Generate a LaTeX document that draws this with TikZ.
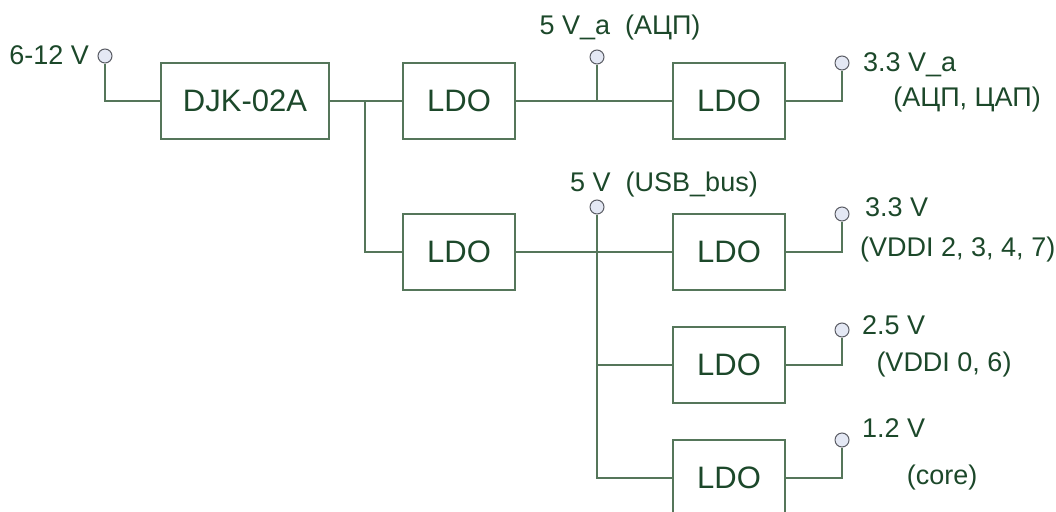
\documentclass[tikz,border=0pt]{standalone}
\usepackage{fontspec}
\setmainfont{Liberation Sans}
\definecolor{txt}{RGB}{28,72,42}
\definecolor{wire}{RGB}{85,118,90}
\definecolor{pinfill}{RGB}{228,232,244}
\definecolor{pindraw}{RGB}{90,92,100}
\begin{document}
\begin{tikzpicture}[x=1pt,y=-1pt,
  blk/.style={draw=wire,line width=1.4pt,minimum width=112pt,minimum height=76pt,inner sep=0pt,text=txt,font=\fontsize{31}{31}\selectfont},
  wide/.style={blk,minimum width=168pt},
  pin/.style={circle,draw=pindraw,fill=pinfill,line width=1pt,minimum size=14pt,inner sep=0pt},
  lbl/.style={text=txt,inner sep=0pt,font=\fontsize{27}{27}\selectfont},
  wr/.style={draw=wire,line width=1.4pt}]
\useasboundingbox (0,0) rectangle (1056,511);
% blocks
\node[wide] (djk) at (245,101) {DJK-02A};
\node[blk] (ldoA) at (459,101) {LDO};
\node[blk] (ldoB) at (459,252) {LDO};
\node[blk] (ldoC) at (729,101) {LDO};
\node[blk] (ldoD) at (729,252) {LDO};
\node[blk] (ldoE) at (729,365) {LDO};
\node[blk] (ldoF) at (729,478) {LDO};
% pins
\node[pin] (pin) at (105,56) {};
\node[pin] (p5a) at (597,57) {};
\node[pin] (p33a) at (842,63) {};
\node[pin] (p5) at (597,207) {};
\node[pin] (p33) at (842,214) {};
\node[pin] (p25) at (842,330) {};
\node[pin] (p12) at (842,440) {};
% junctions
\coordinate (j1) at (365,101);
\coordinate (j2) at (597,101);
\coordinate (j5) at (597,252);
\coordinate (j6) at (597,365);
\coordinate (j7) at (597,478);
% wires
\draw[wr] (pin.south) |- (djk.west);
\draw[wr] (djk.east) -- (j1) -- (ldoA.west);
\draw[wr] (j1) |- (ldoB.west);
\draw[wr] (ldoA.east) -- (j2) -- (ldoC.west);
\draw[wr] (p5a.south) -- (j2);
\draw[wr] (ldoB.east) -- (ldoD.west);
\draw[wr] (p5.south) -- (j7) -- (ldoF.west);
\draw[wr] (j6) -- (ldoE.west);
\draw[wr] (ldoC.east) -| (p33a.south);
\draw[wr] (ldoD.east) -| (p33.south);
\draw[wr] (ldoE.east) -| (p25.south);
\draw[wr] (ldoF.east) -| (p12.south);
% labels
\node[lbl,anchor=east] (t612) at (89,55) {6-12 V};
\node[lbl] (t5a) at (620,28) {5 V\_a\ \ (АЦП)};
\node[lbl,anchor=west] (t33a) at (863,65) {3.3 V\_a};
\node[lbl] (t33ab) at (967,100) {(АЦП, ЦАП)};
\node[lbl] (t5) at (664,185) {5 V\ \ (USB\_bus)};
\node[lbl,anchor=west] (t33) at (865,207) {3.3 V};
\node[lbl,anchor=west] (t33b) at (860,250) {(VDDI 2, 3, 4, 7)};
\node[lbl,anchor=west] (t25) at (862,325) {2.5 V};
\node[lbl] (t25b) at (944,365) {(VDDI 0, 6)};
\node[lbl,anchor=west] (t12) at (862,428) {1.2 V};
\node[lbl] (t12b) at (942,478) {(core)};
\end{tikzpicture}
\end{document}
